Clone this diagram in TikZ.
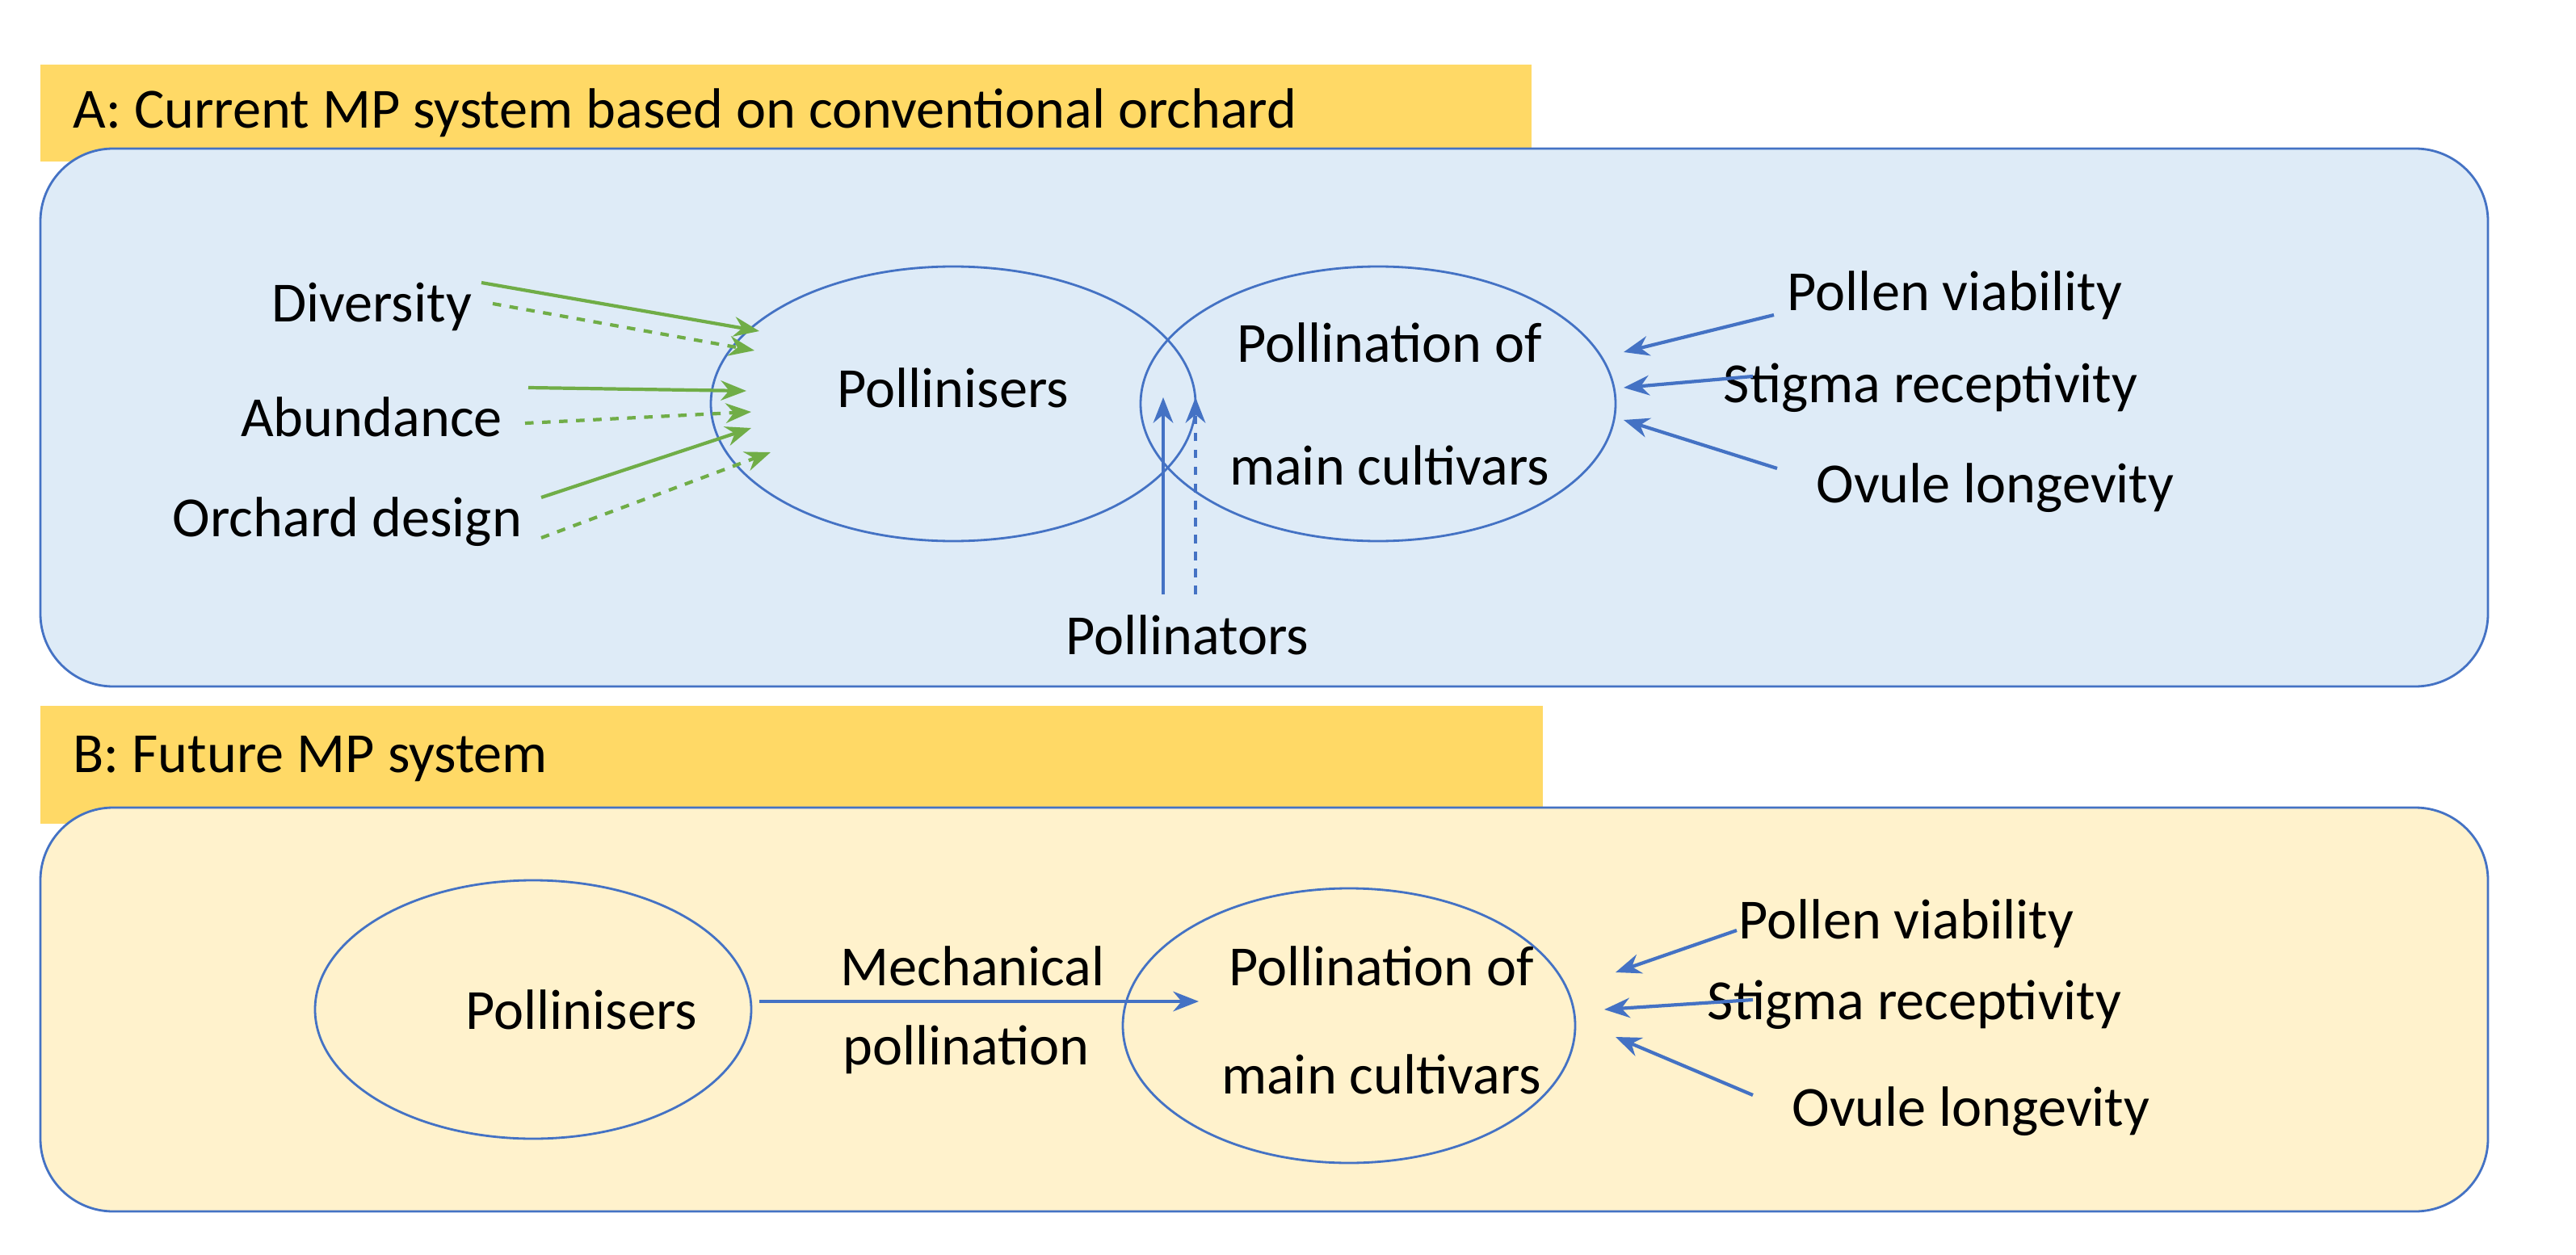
\documentclass[tikz,border=0pt]{standalone}
\usepackage{fontspec}
\setmainfont{Carlito}
\usetikzlibrary{arrows.meta}
\definecolor{panelblue}{HTML}{DEEBF7}
\definecolor{panelyellow}{HTML}{FFF2CC}
\definecolor{titleorange}{HTML}{FFD966}
\definecolor{lineblue}{HTML}{4472C4}
\definecolor{arrowgreen}{HTML}{70AD47}
\begin{document}
\begin{tikzpicture}[x=0.02cm,y=-0.02cm]
% definizione stili
\tikzset{lbl/.style={inner sep=0pt, font=\fontsize{20}{24}\selectfont}}
\tikzset{panel/.style={draw=lineblue, line width=0.8pt, rounded corners=0.9cm}}
\tikzset{titlebox/.style={fill=titleorange, draw=none}}
\tikzset{oval/.style={draw=lineblue, line width=0.8pt}}
\tikzset{garrow/.style={draw=arrowgreen, line width=1.2pt, -{Stealth[length=9pt,width=7pt]}}}
\tikzset{barrow/.style={draw=lineblue, line width=1.2pt, -{Stealth[length=9pt,width=7pt]}}}
\useasboundingbox (0,0) rectangle (1594.5,777);

%---- pannello A
\fill[titlebox] (25,40) rectangle (948,100);
\node[lbl, anchor=west] (titA) at (45,70) {A: Current MP system based on conventional orchard};
\draw[panel, fill=panelblue] (25,92) rectangle (1540,425);
\draw[oval] (590,250) ellipse [x radius=150, y radius=85];
\draw[oval] (853,250) ellipse [x radius=147, y radius=85];
\node[lbl] (pollA) at (590,240) {Pollinisers};
\node[lbl] (pomA) at (860,212) {Pollination of};
\node[lbl] (mcA) at (860,288) {main cultivars};
\node[lbl] (div) at (230,190) {Diversity};
\node[lbl] (abu) at (230,258) {Abundance};
\node[lbl] (ord) at (215,323) {Orchard design};
\node[lbl] (pvA) at (1210,183) {Pollen viability};
\node[lbl] (srA) at (1195,240) {Stigma receptivity};
\node[lbl] (olA) at (1235,302) {Ovule longevity};
\node[lbl] (ptr) at (735,393) {Pollinators};

% estremi delle frecce
\coordinate (d1) at (298,175); \coordinate (d2) at (470,205);
\coordinate (d3) at (305,188); \coordinate (d4) at (467,217);
\coordinate (a1) at (327,240); \coordinate (a2) at (462,242);
\coordinate (a3) at (325,262); \coordinate (a4) at (465,255);
\coordinate (o1) at (335,308); \coordinate (o2) at (465,265);
\coordinate (o3) at (335,333); \coordinate (o4) at (477,280);
\coordinate (r1) at (1098,195); \coordinate (r2) at (1005,218);
\coordinate (r3) at (1085,233); \coordinate (r4) at (1005,240);
\coordinate (r5) at (1100,290); \coordinate (r6) at (1005,260);
\coordinate (p1) at (720,368); \coordinate (p2) at (720,246);
\coordinate (p3) at (740,368); \coordinate (p4) at (740,246);
\draw[garrow] (d1)--(d2);
\draw[garrow, dashed] (d3)--(d4);
\draw[garrow] (a1)--(a2);
\draw[garrow, dashed] (a3)--(a4);
\draw[garrow] (o1)--(o2);
\draw[garrow, dashed] (o3)--(o4);
\draw[barrow] (r1)--(r2);
\draw[barrow] (r3)--(r4);
\draw[barrow] (r5)--(r6);
\draw[barrow] (p1)--(p2);
\draw[barrow, dashed] (p3)--(p4);

%---- pannello B
\fill[titlebox] (25,437) rectangle (955,510);
\node[lbl, anchor=west] (titB) at (45,470) {B: Future MP system};
\draw[panel, fill=panelyellow] (25,500) rectangle (1540,750);
\draw[oval] (330,625) ellipse [x radius=135, y radius=80];
\draw[oval] (835,635) ellipse [x radius=140, y radius=85];
\node[lbl] (pollB) at (360,625) {Pollinisers};
\node[lbl] (pomB) at (855,598) {Pollination of};
\node[lbl] (mcB) at (855,665) {main cultivars};
\node[lbl] (mech) at (602,598) {Mechanical};
\node[lbl] (mpol) at (598,650) {pollination};
\node[lbl] (pvB) at (1180,572) {Pollen viability};
\node[lbl] (srB) at (1185,622) {Stigma receptivity};
\node[lbl] (olB) at (1220,688) {Ovule longevity};

\coordinate (m1) at (470,620); \coordinate (m2) at (742,620);
\coordinate (s1) at (1075,576); \coordinate (s2) at (1000,602);
\coordinate (s3) at (1085,619); \coordinate (s4) at (993,625);
\coordinate (s5) at (1085,678); \coordinate (s6) at (1000,642);
\draw[barrow] (m1)--(m2);
\draw[barrow] (s1)--(s2);
\draw[barrow] (s3)--(s4);
\draw[barrow] (s5)--(s6);
\end{tikzpicture}
\end{document}
